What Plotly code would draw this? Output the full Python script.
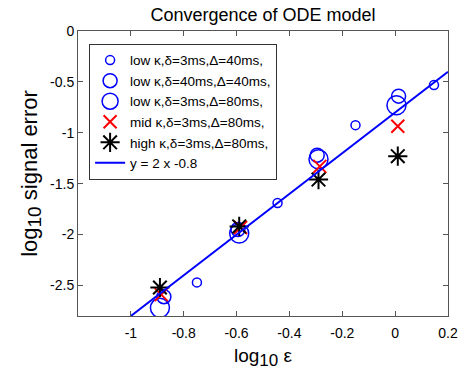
import plotly.graph_objects as go

# Data (log10 epsilon, log10 signal error)
small_x = [-0.75, -0.445, -0.15, 0.147]
small_y = [-2.47, -1.69, -0.925, -0.53]

med_x = [-0.875, -0.595, -0.295, 0.013]
med_y = [-2.61, -1.95, -1.22, -0.64]

large_x = [-0.89, -0.59, -0.29, 0.005]
large_y = [-2.72, -1.99, -1.26, -0.73]

mid_x = [-0.885, -0.585, -0.285, 0.01]
mid_y = [-2.59, -1.93, -1.33, -0.935]

high_x = [-0.89, -0.59, -0.29, 0.01]
high_y = [-2.52, -1.92, -1.46, -1.23]

fit_x = [-1.0, 0.2]
fit_slope = 2
fit_intercept = -0.8
fit_y = [fit_slope * v + fit_intercept for v in fit_x]

xticks = [-1, -0.8, -0.6, -0.4, -0.2, 0, 0.2]
xticklabels = ["-1", "-0.8", "-0.6", "-0.4", "-0.2", "0", "0.2"]
yticks = [0, -0.5, -1, -1.5, -2, -2.5]
yticklabels = ["0", "-0.5", "-1", "-1.5", "-2", "-2.5"]

BLUE = "#0000FF"
FONT = "Arial, Liberation Sans, sans-serif"

fig = go.Figure()
fig.add_trace(go.Scatter(x=small_x, y=small_y, mode="markers",
                         name="low κ,δ=3ms,Δ=40ms,",
                         marker=dict(symbol="circle-open", size=9, color=BLUE, line=dict(width=1.5, color=BLUE))))
fig.add_trace(go.Scatter(x=med_x, y=med_y, mode="markers",
                         name="low κ,δ=40ms,Δ=40ms,",
                         marker=dict(symbol="circle-open", size=14, color=BLUE, line=dict(width=1.5, color=BLUE))))
fig.add_trace(go.Scatter(x=large_x, y=large_y, mode="markers",
                         name="low κ,δ=3ms,Δ=80ms,",
                         marker=dict(symbol="circle-open", size=19, color=BLUE, line=dict(width=1.5, color=BLUE))))
fig.add_trace(go.Scatter(x=mid_x, y=mid_y, mode="markers",
                         name="mid κ,δ=3ms,Δ=80ms,",
                         marker=dict(symbol="x-thin-open", size=13, color="#FF0000", line=dict(width=2, color="#FF0000"))))
fig.add_trace(go.Scatter(x=high_x, y=high_y, mode="markers",
                         name="high κ,δ=3ms,Δ=80ms,",
                         marker=dict(symbol="asterisk-open", size=16, color="#000000", line=dict(width=2, color="#000000"))))
fig.add_trace(go.Scatter(x=fit_x, y=fit_y, mode="lines",
                         name="y = 2 x -0.8",
                         line=dict(color=BLUE, width=2)))

axis_common = dict(showgrid=False, zeroline=False, showline=True, linecolor="#555555", linewidth=1,
                   mirror="ticks", ticks="inside", ticklen=5, tickcolor="#555555", automargin=False,
                   tickfont=dict(size=14, color="#000000", family=FONT))

fig.update_layout(
    width=459, height=372,
    margin=dict(l=78, r=11, t=31, b=56),
    paper_bgcolor="white", plot_bgcolor="white",
    font=dict(family=FONT, color="#000000"),
    title=dict(text="Convergence of ODE model", x=0.5, xanchor="center", xref="paper",
               y=1 - 15 / 372, yref="container", yanchor="middle", font=dict(size=18)),
    xaxis=dict(range=[-1.2, 0.2], tickvals=xticks, ticktext=xticklabels, ticklabelstandoff=4,
               title=dict(text="log<sub><span style='font-size:17px'>10</span></sub> ε",
                          font=dict(size=19), standoff=8), **axis_common),
    yaxis=dict(range=[-2.8, 0], tickvals=yticks, ticktext=yticklabels,
               title=dict(text="log<sub><span style='font-size:19px'>10</span></sub> signal error",
                          font=dict(size=22), standoff=6), **axis_common),
    legend=dict(x=0.03, y=0.955, xanchor="left", yanchor="top", bgcolor="white",
                bordercolor="#333333", borderwidth=1, font=dict(size=13.5),
                tracegroupgap=0, itemsizing="trace"),
    showlegend=True,
)

# Remove the default 8px page margin so the figure fills the window exactly.
fig.write_html("out.html", config={"displayModeBar": False},
               post_script="document.body.style.margin='0';")
